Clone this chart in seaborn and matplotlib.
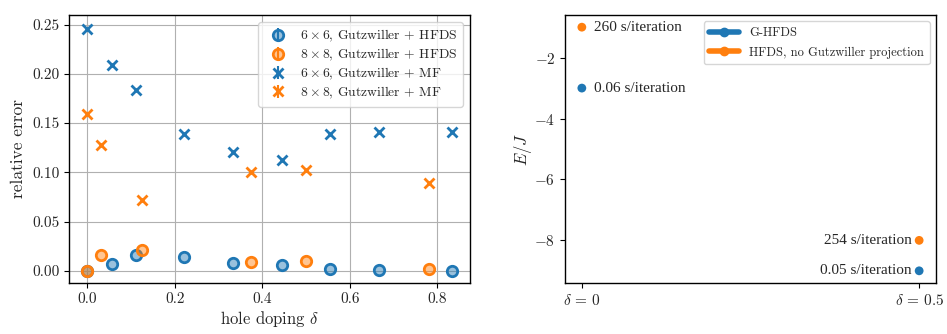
import matplotlib
matplotlib.use('Agg')
import matplotlib.pyplot as plt
import pandas as pd
import seaborn as sns
from matplotlib.colors import to_rgba
from matplotlib.lines import Line2D

# left panel: relative error vs hole doping
doping_6x6 = [0.0, 2 / 36, 4 / 36, 8 / 36, 12 / 36, 16 / 36, 20 / 36, 24 / 36, 30 / 36]
hfds_6x6 = [0.0, 0.0068, 0.0162, 0.0142, 0.0081, 0.0057, 0.0024, 0.0010, 0.0]
mf_6x6 = [0.246, 0.2088, 0.1841, 0.1389, 0.1206, 0.1128, 0.1392, 0.1412, 0.1412]

doping_8x8 = [0.0, 2 / 64, 8 / 64, 24 / 64, 32 / 64, 50 / 64]
hfds_8x8 = [0.0, 0.0166, 0.0216, 0.0091, 0.0101, 0.0017]
mf_8x8 = [0.1595, 0.128, 0.0716, 0.1007, 0.1027, 0.0889]

series_labels = [
	r'$6\times 6$, Gutzwiller + HFDS',
	r'$8\times 8$, Gutzwiller + HFDS',
	r'$6\times 6$, Gutzwiller + MF',
	r'$8\times 8$, Gutzwiller + MF',
]

# right panel: energy and cost per iteration
methods = ['G-HFDS', 'HFDS, no Gutzwiller projection']
energy_delta = [0.0, 0.0, 0.5, 0.5]
energy_value = [-3.0, -1.0, -9.0, -8.0]
energy_method = [methods[0], methods[1], methods[0], methods[1]]
timing_labels = ['0.06 s/iteration', '260 s/iteration', '0.05 s/iteration', '254 s/iteration']

blue = '#1f77b4'
orange = '#ff7f0e'

sns.set_style('ticks')
plt.rcParams['font.family'] = ['cmr10', 'DejaVu Serif']
plt.rcParams['mathtext.fontset'] = 'cm'
plt.rcParams['axes.formatter.use_mathtext'] = True
plt.rcParams['axes.unicode_minus'] = True

fig = plt.figure(figsize=(9.47, 3.34), dpi=100)
ax1 = fig.add_axes([0.0729, 0.1527, 0.4234, 0.8024])
ax2 = fig.add_axes([0.5966, 0.1527, 0.3918, 0.8024])

for ax in (ax1, ax2):
	for side in ax.spines.values():
		side.set_color('black')
		side.set_linewidth(1.0)
	ax.tick_params(labelsize=11, color='black', direction='out', length=3.5)

ax1.set_axisbelow(True)
ax1.grid(True, color='#b0b0b0', linewidth=0.8)

circle_kw = dict(marker='o', markersize=7.5, markeredgewidth=2, linestyle='none')
cross_kw = dict(marker='x', markersize=6.5, markeredgewidth=2, linestyle='none')
styles = [
	(blue, circle_kw, to_rgba(blue, 0.45)),
	(orange, circle_kw, to_rgba(orange, 0.45)),
	(blue, cross_kw, None),
	(orange, cross_kw, None),
]
series = [(doping_6x6, hfds_6x6), (doping_8x8, hfds_8x8), (doping_6x6, mf_6x6), (doping_8x8, mf_8x8)]

for (xs, ys), (c, kw, face) in zip(series, styles):
	extra = {'markerfacecolor': face} if face is not None else {}
	ax1.plot(xs, ys, color=c, markeredgecolor=c, **kw, **extra)

# errorbar-style handles for the legend
legend_handles = []
for (c, kw, face), label in zip(styles, series_labels):
	extra = {'markerfacecolor': face} if face is not None else {}
	h = ax1.errorbar([], [], yerr=[], fmt=kw['marker'], color=c, markeredgecolor=c,
		markersize=kw['markersize'], markeredgewidth=2, capsize=3, elinewidth=1.5,
		capthick=1.5, label=label, **extra)
	legend_handles.append(h)

ax1.set_xticks([0.0, 0.2, 0.4, 0.6, 0.8])
ax1.set_xticklabels(['0.0', '0.2', '0.4', '0.6', '0.8'])
ax1.set_yticks([0.0, 0.05, 0.10, 0.15, 0.20, 0.25])
ax1.set_yticklabels(['0.00', '0.05', '0.10', '0.15', '0.20', '0.25'])
ax1.set_xlim(-0.0417, 0.8750)
ax1.set_ylim(-0.0122, 0.2597)
ax1.set_xlabel(r'hole doping $\delta$', fontsize=12, labelpad=2)
ax1.set_ylabel('relative error', fontsize=12.5, labelpad=4)
ax1.legend(legend_handles, series_labels, loc='upper right', fontsize=9.8, frameon=True,
	framealpha=0.8, edgecolor='#cccccc', handletextpad=0.6, borderpad=0.45, labelspacing=0.2)

df = pd.DataFrame({'delta': energy_delta, 'energy': energy_value, 'method': energy_method})
sns.scatterplot(data=df, x='delta', y='energy', hue='method', hue_order=methods,
	palette=[blue, orange], s=40, edgecolor='none', legend=False, ax=ax2)

for x, y, text in zip(energy_delta, energy_value, timing_labels):
	if x == 0.0:
		ax2.annotate(text, (x, y), xytext=(9, 0), textcoords='offset points',
			ha='left', va='center', fontsize=11, family='Liberation Serif')
	else:
		ax2.annotate(text, (x, y), xytext=(-5.5, 0), textcoords='offset points',
			ha='right', va='center', fontsize=11, family='Liberation Serif')

ax2.set_xticks([0.0, 0.5])
ax2.set_xticklabels([r'$\delta\,=\,0$', r'$\delta\,=\,0.5$'])
ax2.set_yticks([-8, -6, -4, -2])
ax2.set_xlim(-0.025, 0.525)
ax2.set_ylim(-9.4, -0.6)
ax2.set_xlabel('')
ax2.set_ylabel(r'$E/J$', fontsize=12, labelpad=0)

handles = [
	Line2D([], [], color=blue, linewidth=4, marker='o', markersize=6),
	Line2D([], [], color=orange, linewidth=4, marker='o', markersize=6),
]
ax2.legend(handles, methods, loc='upper right', fontsize=9, frameon=True, framealpha=0.8,
	edgecolor='#cccccc', borderpad=0.45, labelspacing=0.6, handlelength=2.4)

fig.savefig('out.png', dpi=100)
